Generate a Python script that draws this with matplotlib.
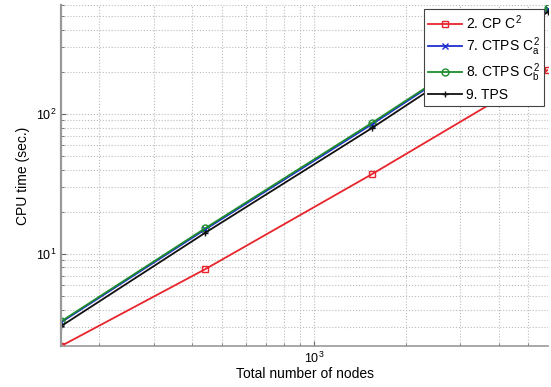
import matplotlib
matplotlib.use("Agg")
import matplotlib.pyplot as plt
import numpy as np

plt.rcParams['font.family'] = ['Liberation Sans', 'DejaVu Sans']
plt.rcParams['mathtext.fontset'] = 'custom'
plt.rcParams['mathtext.rm'] = 'Liberation Sans'
plt.rcParams['mathtext.it'] = 'Liberation Sans'

# data
nodes = [150, 443, 1540, 5780]
cp_c2 = [2.2, 7.8, 37, 206]
ctps_c2a = [3.25, 15.0, 84, 565]
ctps_c2b = [3.3, 15.3, 86, 572]
tps = [3.05, 14.2, 79, 535]

fig = plt.figure(figsize=(5.51, 3.87), dpi=100)
ax = fig.add_axes([0.111, 0.106, 0.884, 0.881])

ax.loglog(nodes, cp_c2, color='#e8242c', marker='s', mfc='none', ms=5, lw=1.3, label='2. CP $C^2$')
ax.loglog(nodes, ctps_c2a, color='#1f2fd0', marker='x', ms=5, lw=1.3, label='7. CTPS $C^2_a$')
ax.loglog(nodes, ctps_c2b, color='#1e8c2e', marker='o', mfc='none', ms=5, lw=1.3, label='8. CTPS $C^2_b$')
ax.loglog(nodes, tps, color='#111111', marker='+', ms=5, lw=1.3, label='9. TPS')

ax.set_xlim(150, 5800)
ax.set_ylim(2.2, 600)
ax.grid(True, which='both', linestyle=':', color='#bbbbbb', lw=0.8)
ax.tick_params(which='both', direction='in', colors='#666666', labelcolor='black', labelsize=9)
ax.spines['top'].set_visible(False)
ax.spines['right'].set_visible(False)
ax.spines['left'].set_color('#999999')
ax.spines['left'].set_linewidth(1.6)
ax.spines['bottom'].set_color('#999999')
ax.spines['bottom'].set_linewidth(1.2)

ax.set_xlabel('Total number of nodes', fontsize=10, labelpad=1)
ax.set_ylabel('CPU time (sec.)', fontsize=10)

leg = ax.legend(loc='upper right', fontsize=10, fancybox=False, framealpha=1,
                edgecolor='#444444', borderaxespad=0.3, handlelength=2.4,
                labelspacing=0.25, borderpad=0.3, handletextpad=0.3)
leg.get_frame().set_linewidth(0.8)

fig.savefig('out.png', dpi=100)
